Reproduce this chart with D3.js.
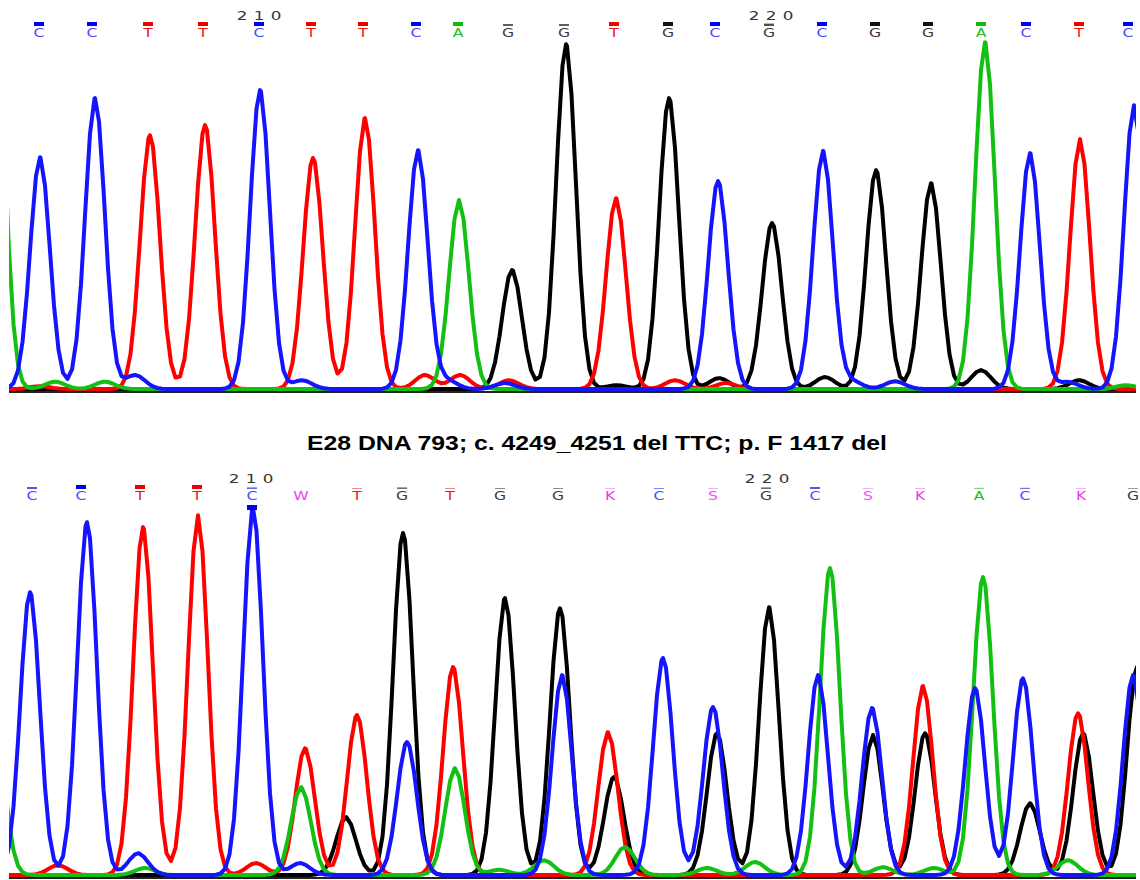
<!DOCTYPE html>
<html>
<head>
<meta charset="utf-8">
<script src="https://cdn.jsdelivr.net/npm/d3@7/dist/d3.min.js"></script>
<style>
body { margin: 0; background: #ffffff; }
</style>
</head>
<body>
<div id="plot"></div>
<script>
var width = 1140;
var height = 880;

// ---- base calls ----
var top_bases = ['C','C','T','T','C','T','T','C','A','G','G','T','G','C','G','C','G','G','A','C','T','C'];
var top_base_pos = [39, 92, 148, 203, 259, 311, 363, 416, 458, 508, 564, 614, 668, 715, 769, 822, 875, 928, 981, 1026, 1079, 1128];
var top_base_qual = [1, 1, 1, 1, 1, 1, 1, 1, 1, 0.5, 0.5, 1, 1, 1, 0.6, 1, 1, 1, 1, 1, 1, 1];
var top_ticks = [210, 220];
var top_tick_pos = [259, 771];

var bot_bases = ['C','C','T','T','C','W','T','G','T','G','G','K','C','S','G','C','S','K','A','C','K','G'];
var bot_base_pos = [32, 81, 140, 197, 252, 301, 357, 402, 450, 500, 558, 610, 659, 713, 766, 815, 868, 920, 979, 1025, 1081, 1133];
var bot_base_qual = [0.5, 1, 1, 1, 0.4, 0, 0.2, 0.4, 0.2, 0.2, 0.2, 0.1, 0.2, 0.1, 0.4, 0.5, 0.1, 0.1, 0.3, 0.3, 0.1, 0.1];
var bot_ticks = [210, 220];
var bot_tick_pos = [251, 767];

var title = 'E28 DNA 793; c. 4249_4251 del TTC; p. F 1417 del';

// ---- trace peaks: [scan position, signal] ----
var top_peaks_A = [[-5, 1100], [55, 21], [105, 21], [459, 540], [985, 991], [1126, 11]];
var top_peaks_C = [[40, 662], [95, 831], [135, 40], [260, 854], [302, 25], [418, 682], [447, 25], [505, 17],
                   [718, 594], [823, 680], [852, 22], [895, 22], [1030, 674], [1068, 20], [1134, 811]];
var top_peaks_G = [[512, 340], [566, 985], [617, 11], [669, 831], [719, 31], [772, 474], [825, 34],
                   [876, 625], [931, 588], [981, 54], [1079, 25]];
var top_peaks_T = [[40, 8], [150, 725], [205, 754], [313, 660], [365, 774], [425, 40], [460, 40], [509, 25],
                   [616, 545], [675, 25], [726, 17], [1080, 714]];

var bot_peaks_A = [[-5, 420], [145, 20], [301, 251], [455, 305], [499, 15], [544, 42], [625, 80], [707, 20],
                   [755, 37], [830, 877], [883, 22], [934, 20], [983, 851], [1068, 42]];
var bot_peaks_C = [[30, 808], [87, 1008], [138, 62], [253, 1048], [300, 34], [407, 380], [562, 571], [663, 620],
                   [713, 480], [818, 571], [872, 477], [975, 534], [1023, 562], [1133, 571]];
var bot_peaks_G = [[346, 165], [403, 977], [505, 791], [560, 762], [614, 280], [717, 405], [769, 765],
                   [873, 400], [925, 405], [1030, 205], [1083, 405], [1137, 594]];
var bot_peaks_T = [[58, 28], [143, 994], [198, 1028], [256, 34], [305, 362], [357, 457], [453, 594],
                   [608, 408], [923, 540], [1078, 462]];

var trace_colors = { A: '#12c012', C: '#1414ff', G: '#000000', T: '#ff0000' };
var bar_colors = { A: '#10b810', C: '#0000ee', G: '#111111', T: '#ee0000' };
var letter_colors = { A: '#22bb22', C: '#4a4aff', G: '#3a3a3a', T: '#ee1515', W: '#ee44ee', K: '#ee33ee', S: '#ee55ee' };
var draw_order = ['G', 'T', 'A', 'C'];
var peak_sigma = 9.8;
var scan_step = 4.5;

var canvas = d3.select('#plot')
    .append('svg')
    .attr('width', width)
    .attr('height', height);

canvas.append('rect')
    .attr('width', width)
    .attr('height', height)
    .attr('fill', '#ffffff');

var x_scale = d3.scaleLinear()
    .domain([0, 1140])
    .range([0, width]);

canvas.append('clipPath')
    .attr('id', 'plot-clip')
    .append('rect')
    .attr('x', 9)
    .attr('y', 0)
    .attr('width', 1127)
    .attr('height', height);

var panels = [
    { base_y: 389, line_y: 392, call_y: 22, tick_y: 20,
      bases: top_bases, pos: top_base_pos, qual: top_base_qual,
      ticks: top_ticks, tick_pos: top_tick_pos,
      peaks: { A: top_peaks_A, C: top_peaks_C, G: top_peaks_G, T: top_peaks_T } },
    { base_y: 875, line_y: 878, call_y: 485, tick_y: 483,
      bases: bot_bases, pos: bot_base_pos, qual: bot_base_qual,
      ticks: bot_ticks, tick_pos: bot_tick_pos,
      peaks: { A: bot_peaks_A, C: bot_peaks_C, G: bot_peaks_G, T: bot_peaks_T } }
];

// scan grid plus the peak centres, joined by straight segments like a sampled trace
function trace(peaks) {
    var scans = d3.range(0, 1145, scan_step)
        .concat(peaks.map(function(p) { return p[0]; }))
        .sort(d3.ascending);
    return scans.map(function(s) {
        var v = 0;
        peaks.forEach(function(p) {
            var d = s - p[0];
            v += p[1] * Math.exp(-(d * d) / (2 * peak_sigma * peak_sigma));
        });
        return [s, v];
    });
}

panels.forEach(function(panel, pi) {
    var y_scale = d3.scaleLinear()
        .domain([0, 1000])
        .range([panel.base_y, panel.base_y - 350]);

    var line_gen = d3.line()
        .x(function(d) { return x_scale(d[0]); })
        .y(function(d) { return y_scale(d[1]); });

    var g = canvas.append('g').attr('class', 'panel-' + pi);

    // baseline
    g.append('line')
        .attr('x1', x_scale(9))
        .attr('x2', x_scale(1136))
        .attr('y1', panel.line_y)
        .attr('y2', panel.line_y)
        .attr('stroke', '#222222')
        .attr('stroke-width', 2);

    // traces
    g.selectAll('path.trace')
        .data(draw_order)
        .enter()
        .append('path')
        .attr('class', 'trace')
        .attr('clip-path', 'url(#plot-clip)')
        .attr('fill', 'none')
        .attr('stroke', function(d) { return trace_colors[d]; })
        .attr('stroke-width', 4)
        .attr('stroke-linejoin', 'round')
        .attr('d', function(d) { return line_gen(trace(panel.peaks[d])); });

    // quality bars
    g.selectAll('rect.qbar')
        .data(panel.bases)
        .enter()
        .append('rect')
        .attr('class', 'qbar')
        .attr('x', function(d, i) { return x_scale(panel.pos[i]) - 5; })
        .attr('y', function(d, i) { return panel.call_y + 4 - Math.max(1, 4 * panel.qual[i]); })
        .attr('width', 10)
        .attr('height', function(d, i) { return Math.max(1, 4 * panel.qual[i]); })
        .attr('fill', function(d) { return bar_colors[d] || '#ee44ee'; })
        .attr('opacity', function(d, i) { return panel.qual[i] === 0 ? 0 : 0.35 + 0.65 * panel.qual[i]; });

    // base letters
    g.selectAll('text.base')
        .data(panel.bases)
        .enter()
        .append('text')
        .attr('class', 'base')
        .attr('transform', function(d, i) {
            return 'translate(' + x_scale(panel.pos[i]) + ',' + (panel.call_y + 15) + ') scale(1.3,0.95)';
        })
        .attr('text-anchor', 'middle')
        .attr('font-family', 'DejaVu Sans, sans-serif')
        .attr('font-size', 12)
        .attr('fill', function(d) { return letter_colors[d]; })
        .text(function(d) { return d; });

    // position numbers
    var digits = [];
    panel.ticks.forEach(function(t, ti) {
        String(t).split('').forEach(function(ch, ci) {
            digits.push({ ch: ch, x: panel.tick_pos[ti] + (ci - 1) * 17 });
        });
    });
    g.selectAll('text.tick')
        .data(digits)
        .enter()
        .append('text')
        .attr('class', 'tick')
        .attr('transform', function(d) {
            return 'translate(' + x_scale(d.x) + ',' + panel.tick_y + ') scale(1.4,1)';
        })
        .attr('text-anchor', 'middle')
        .attr('font-family', 'DejaVu Sans, sans-serif')
        .attr('font-size', 12)
        .attr('fill', '#333333')
        .text(function(d) { return d.ch; });
});

// marker under called C at 210 (lower panel)
canvas.append('rect')
    .attr('x', x_scale(bot_base_pos[4]) - 5)
    .attr('y', 505)
    .attr('width', 10)
    .attr('height', 5)
    .attr('fill', '#0000ee');

// title
canvas.append('text')
    .attr('x', 597)
    .attr('y', 450)
    .attr('text-anchor', 'middle')
    .attr('font-family', 'Liberation Sans, Arial, sans-serif')
    .attr('font-weight', 'bold')
    .attr('font-size', 20)
    .attr('textLength', 580)
    .attr('lengthAdjust', 'spacingAndGlyphs')
    .attr('fill', '#000000')
    .text(title);
</script>
</body>
</html>
